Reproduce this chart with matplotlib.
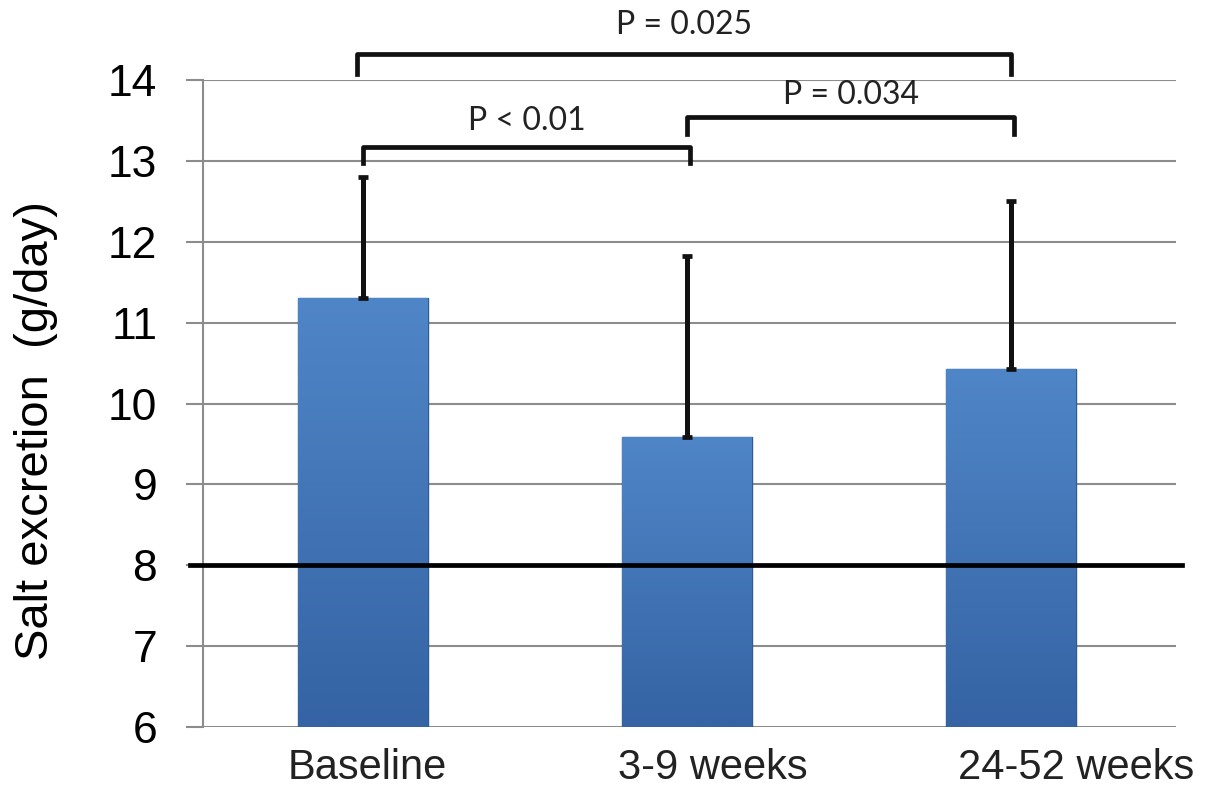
import numpy as np
import matplotlib.pyplot as plt
from matplotlib.colors import LinearSegmentedColormap

# data
groups = ['Baseline', '3-9 weeks', '24-52 weeks']
means = [11.30, 9.59, 10.43]
upper = [12.80, 11.83, 12.50]   # top of the one-sided error bars
ref_level = 8
# brackets: (left, right, bar height, leg bottom, label, label y)
pairs = [(-0.02, 2.00, 14.32, 14.08, 'P = 0.025', 14.68),
         (0.00, 1.01, 13.17, 12.98, 'P < 0.01', 13.50),
         (1.00, 2.01, 13.54, 13.34, 'P = 0.034', 13.82)]
# category labels sit a bit right of their bars in the original
label_shift = [0.013, 0.08, 0.20]

plt.rcParams['font.family'] = ['Liberation Sans', 'DejaVu Sans']

fig = plt.figure(figsize=(12.05, 7.94), dpi=100)
ax = fig.add_axes([0.1685, 0.0844, 0.8075, 0.8146])

x = np.arange(len(groups))
bars = ax.bar(x, means, width=0.40, color='#4a7fc1', edgecolor='#2f5a94', linewidth=1.0, zorder=2)

# vertical gradient fill clipped to each bar
cmap = LinearSegmentedColormap.from_list('blu', ['#3563a3', '#4f86c8'])
grad = np.linspace(0, 1, 256).reshape(-1, 1)
for b in bars:
    x0, w, h = b.get_x(), b.get_width(), b.get_height()
    im = ax.imshow(grad, cmap=cmap, aspect='auto', origin='lower',
                   extent=[x0, x0 + w, 6, h], zorder=2.5)
    im.set_clip_path(b)

yerr = [np.zeros(3), np.array(upper) - np.array(means)]
ax.errorbar(x, means, yerr=yerr, fmt='none', ecolor='#111111', elinewidth=3.6,
            capsize=3.5, capthick=3.4, zorder=3)

ax.plot([-0.535, 2.528], [ref_level, ref_level], color='black', lw=3.4,
        clip_on=False, zorder=4)

ax.set_xlim(-0.494, 2.509)
ax.set_ylim(6, 14)
ax.set_yticks(range(6, 15))
ax.yaxis.grid(True, color='#8c8c8c', lw=1.5, zorder=0)
ax.set_axisbelow(True)
for s in ['top', 'right', 'bottom']:
    ax.spines[s].set_visible(False)
ax.spines['left'].set_color('#8c8c8c')
ax.spines['left'].set_linewidth(1.5)
ax.tick_params(axis='y', length=12, width=1.5, color='#8c8c8c', labelsize=32, pad=21)
ax.set_xticks(x)
ax.set_xticklabels([])
ax.tick_params(axis='x', length=0)
for i, g in enumerate(groups):
    ax.text(i + label_shift[i], -0.063, g, transform=ax.get_xaxis_transform(),
            ha='center', va='center', fontsize=30, color='#222222')

ax.set_ylabel('Salt excretion  (g/day)', fontsize=34)
ax.yaxis.set_label_coords(-0.149, 0.459)

for x1, x2, yb, yl, lab, ty in pairs:
    ax.plot([x1, x1, x2, x2], [yl, yb, yb, yl], color='#111111', lw=3.4,
            clip_on=False, solid_joinstyle='round', zorder=5)
    ax.text((x1 + x2) / 2, ty, lab, ha='center', va='center', fontsize=23,
            family=['Lato', 'DejaVu Sans'], color='#222222', clip_on=False)

fig.savefig('out.png', dpi=100)
